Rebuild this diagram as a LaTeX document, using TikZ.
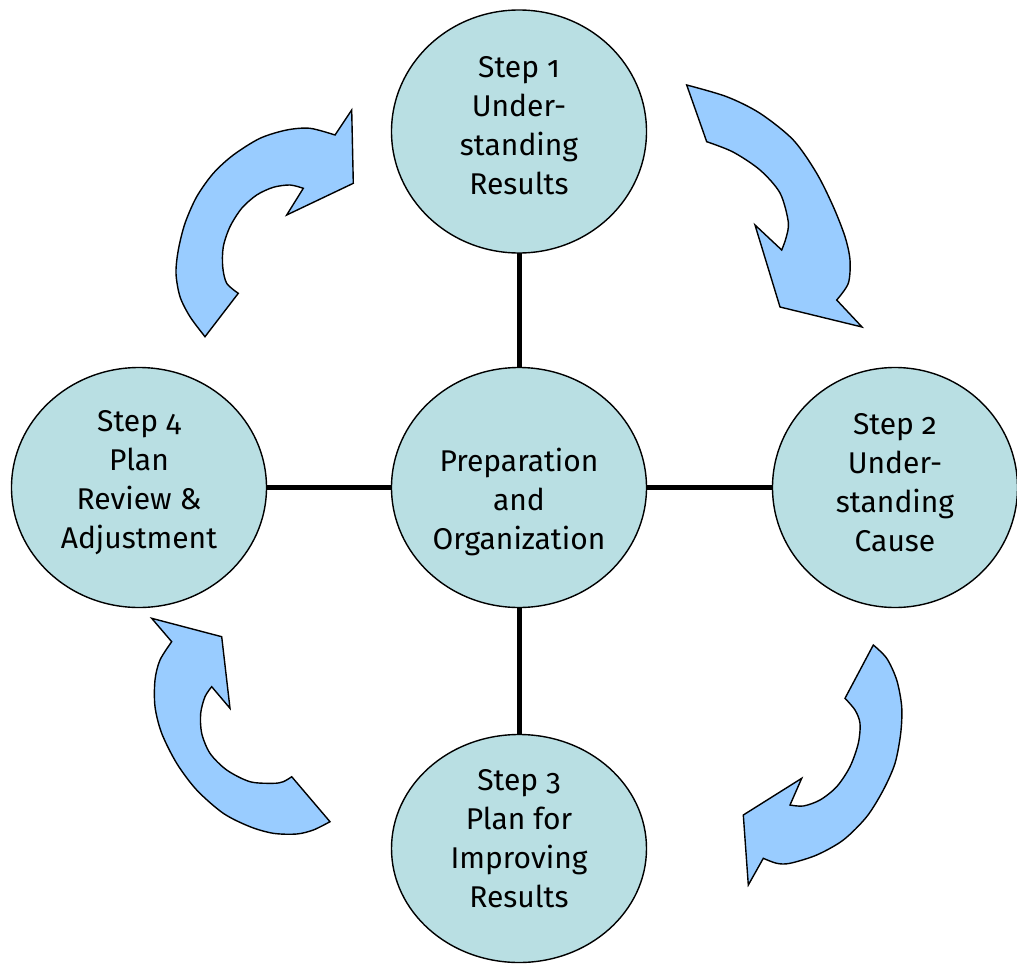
\documentclass[tikz,border=0pt]{standalone}
\usepackage{fontspec}
\setmainfont{Fira Sans}[Numbers=OldStyle]
\usetikzlibrary{shapes.geometric}
\definecolor{circfill}{RGB}{185,223,227}
\definecolor{arrfill}{RGB}{153,204,255}
\tikzset{
  stepnode/.style={ellipse, draw=black, line width=1.4pt, fill=circfill,
    minimum width=255pt, minimum height=240pt, inner sep=0pt},
  txt/.style={align=center, font=\fontsize{30}{39}\selectfont, text=black},
  conn/.style={line width=5pt, draw=black},
  cyclearrow/.style={fill=arrfill, draw=black, line width=1.4pt, line join=miter}
}
\begin{document}
\begin{tikzpicture}[x=1pt,y=-1pt]
\useasboundingbox (0,0) rectangle (1017,964);
\fill[white] (0,0) rectangle (1017,964);

% connectors first (behind nodes)
\coordinate (pc) at (519,487.5);
\coordinate (p1) at (519,131.5);
\coordinate (p2) at (895,487.5);
\coordinate (p3) at (519,848.5);
\coordinate (p4) at (139,487.5);
\draw[conn] (p1) -- (pc);
\draw[conn] (p2) -- (pc);
\draw[conn] (p3) -- (pc);
\draw[conn] (p4) -- (pc);

\node[stepnode, label={[txt, yshift=-14.5pt]center:Preparation\\and\\Organization}] (c) at (pc) {};
\node[stepnode, minimum height=243pt, label={[txt, yshift=6pt]center:Step 1\\Under-\\standing\\Results}] (s1) at (p1) {};
\node[stepnode, minimum width=245pt, label={[txt, yshift=5pt]center:Step 2\\Under-\\standing\\Cause}] (s2) at (p2) {};
\node[stepnode, minimum height=228pt, label={[txt, yshift=10pt]center:Step 3\\Plan for\\Improving\\Results}] (s3) at (p3) {};
\node[stepnode, label={[txt, yshift=5pt]center:Step 4\\Plan\\Review \&\\Adjustment}] (s4) at (p4) {};

% top-right arrow
\filldraw[cyclearrow] plot[smooth] coordinates {(686.7,85) (726.7,96.7) (760,113.3) (793.3,140) (816.7,173.3) (833.3,206.7) (845,236.7) (850,260) (848.3,283.3) (836.7,300)}
  -- (862,327) -- (780,307) -- (755,225)
  -- plot[smooth] coordinates {(781.7,250) (786,238) (788.3,222) (780,193) (760,170) (733,152) (706.7,141.7)} -- cycle;

% top-left arrow
\filldraw[cyclearrow] plot[smooth] coordinates {(205,336.7) (190,316.7) (180,296.7) (176,273.3) (178.3,250) (185,223.3) (196.7,196.7) (213.3,173.3) (233.3,155) (260,138.3) (286.7,130) (310,128.3) (335,135)}
  -- (351.7,110) -- (353.3,183.3) -- (286.7,215)
  -- plot[smooth] coordinates {(303.3,188.3) (290,185) (273.3,187.3) (256.7,195) (241.7,208.3) (230,226.7) (223.3,246.7) (222.7,266.7) (226.7,283.3) (238.3,293.3)} -- cycle;

% bottom-right arrow
\filldraw[cyclearrow] plot[smooth] coordinates {(873.3,645) (886.7,658.3) (896.7,680) (901.7,706.7) (900.7,733.3) (895,763.3) (883.3,790) (866.7,816.7) (843.3,840) (816.7,855) (790,863.3) (776.7,863.3) (763.3,858.3)}
  -- (748.3,885) -- (743.3,815) -- (801.7,778.3)
  -- plot[smooth] coordinates {(790,805) (803.3,806) (820,800) (836.7,786.7) (850,766.7) (858.3,743.3) (860,723.3) (855,710) (845,698.3)} -- cycle;

% bottom-left arrow
\filldraw[cyclearrow] plot[smooth] coordinates {(330,821.7) (313.3,830) (296.7,834) (273.3,833.3) (250,826.7) (223.3,813.3) (196.7,790) (176.7,763.3) (161.7,733.3) (155,706.7) (155,680) (160,660) (171.7,641.7)}
  -- (151.7,618.3) -- (221.7,636.7) -- (230,708.3)
  -- plot[smooth] coordinates {(211.7,686.7) (205,696.7) (200.7,713.3) (201.7,733.3) (210,753.3) (226.7,770) (250,781.7) (273.3,783.3) (283.3,781.7) (291.7,776.7)} -- cycle;
\end{tikzpicture}
\end{document}
